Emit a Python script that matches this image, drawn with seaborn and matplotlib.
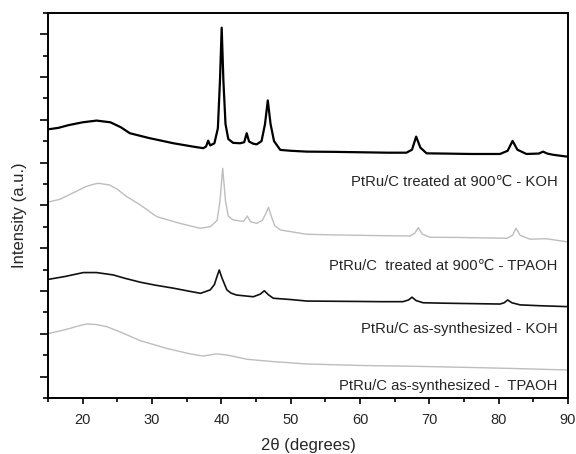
import matplotlib
matplotlib.use("Agg")
import matplotlib.pyplot as plt
from matplotlib.ticker import MultipleLocator, NullFormatter
import pandas as pd
import seaborn as sns

# XRD patterns (offset intensity, arbitrary units) vs 2-theta in degrees
tt_koh_900 = [15.2, 16.5, 18.0, 20.0, 22.0, 24.0, 25.5, 26.8, 29.5, 33.1, 36.0, 37.4, 37.8,
              38.1, 38.4, 39.0, 39.5, 39.8, 40.05, 40.3, 40.6, 41.0, 41.7, 42.7, 43.3,
              43.66, 44.0, 44.6, 45.1, 45.8, 46.3, 46.7, 47.1, 47.6, 48.5, 50.0, 52.3,
              56.0, 60.0, 64.0, 66.7, 67.5, 68.1, 68.7, 69.6, 72.0, 76.0, 80.2, 81.3,
              82.0, 82.7, 84.0, 85.8, 86.4, 87.0, 87.9, 89.8]
int_koh_900 = [12.56, 12.62, 12.75, 12.88, 12.96, 12.88, 12.65, 12.37, 12.15, 11.90, 11.74, 11.67, 11.75,
               12.02, 11.80, 11.90, 12.6, 14.8, 17.3, 14.8, 12.8, 12.1, 11.92, 11.90, 11.95,
               12.37, 11.98, 11.88, 11.85, 12.0, 12.8, 13.9, 12.8, 12.0, 11.59, 11.55, 11.51,
               11.50, 11.48, 11.46, 11.46, 11.6, 12.21, 11.7, 11.43, 11.42, 11.40, 11.40, 11.55,
               12.01, 11.6, 11.40, 11.42, 11.51, 11.42, 11.36, 11.28]

tt_tpaoh_900 = [15.2, 16.7, 18.65, 20.5, 21.5, 22.3, 23.9, 25.0, 26.35, 28.3, 30.7, 34.0, 36.9,
                38.4, 39.4, 39.8, 40.2, 40.6, 41.0, 41.7, 43.2, 43.75, 44.2, 45.1, 45.9,
                46.4, 46.8, 47.2, 47.7, 48.5, 52.3, 56.0, 60.0, 64.0, 67.2, 67.9, 68.4,
                69.0, 70.1, 74.0, 78.0, 81.2, 82.0, 82.5, 83.1, 84.5, 86.9, 89.8]
int_tpaoh_900 = [9.17, 9.28, 9.59, 9.88, 9.98, 10.03, 9.95, 9.75, 9.41, 9.02, 8.47, 8.16, 7.93,
                 8.0, 8.3, 9.2, 10.73, 9.2, 8.5, 8.32, 8.25, 8.50, 8.24, 8.16, 8.3,
                 8.6, 8.91, 8.5, 8.05, 7.85, 7.65, 7.62, 7.60, 7.58, 7.57, 7.7, 7.96,
                 7.65, 7.51, 7.50, 7.48, 7.46, 7.6, 7.93, 7.6, 7.42, 7.44, 7.30]

tt_koh_as = [15.2, 17.5, 20.1, 22.0, 24.4, 26.0, 28.3, 30.5, 33.1, 35.5, 37.0, 38.4,
             39.0, 39.4, 39.7, 40.1, 40.8, 41.4, 42.2, 44.6, 45.6, 46.2, 46.8, 47.5,
             50.0, 52.3, 56.0, 60.0, 63.0, 66.2, 67.0, 67.5, 68.1, 69.1, 72.0, 76.0,
             80.2, 80.8, 81.3, 81.9, 83.1, 86.0, 89.8]
int_koh_as = [5.55, 5.68, 5.86, 5.86, 5.75, 5.60, 5.41, 5.27, 5.13, 4.98, 4.89, 5.05,
              5.3, 5.7, 5.98, 5.6, 5.05, 4.9, 4.81, 4.73, 4.85, 5.01, 4.82, 4.66,
              4.60, 4.53, 4.52, 4.51, 4.50, 4.50, 4.58, 4.71, 4.55, 4.45, 4.43, 4.41,
              4.39, 4.45, 4.58, 4.45, 4.35, 4.31, 4.27]

tt_tpaoh_as = [15.2, 17.7, 19.3, 20.6, 22.0, 23.5, 25.9, 28.3, 32.1, 35.5, 37.4, 39.3, 40.8,
               43.7, 47.5, 52.3, 60.0, 68.0, 75.4, 82.0, 89.8]
int_tpaoh_as = [3.02, 3.21, 3.36, 3.46, 3.43, 3.33, 3.02, 2.68, 2.32, 2.06, 1.96, 2.06, 2.01,
                1.81, 1.70, 1.59, 1.52, 1.48, 1.43, 1.38, 1.31]

labels = ["PtRu/C treated at 900\u2103 - KOH",
          "PtRu/C  treated at 900\u2103 - TPAOH",
          "PtRu/C as-synthesized - KOH",
          "PtRu/C as-synthesized -  TPAOH"]
label_y = [9.91, 6.01, 3.02, 0.37]

series = [(tt_koh_900, int_koh_900, "#000000", 1.6),
          (tt_tpaoh_900, int_tpaoh_900, "#bdbdbd", 1.0),
          (tt_koh_as, int_koh_as, "#111111", 1.2),
          (tt_tpaoh_as, int_tpaoh_as, "#bdbdbd", 1.0)]

sns.set_style("ticks")
plt.rcParams["font.family"] = ["Liberation Sans", "DejaVu Sans"]

fig = plt.figure(figsize=(5.76, 4.54), dpi=100)
ax = fig.add_axes([48 / 576, 56 / 454, 520 / 576, 385.3 / 454])

for tt, inten, color, lw in series:
    df = pd.DataFrame({"two_theta": tt, "intensity": inten})
    sns.lineplot(data=df, x="two_theta", y="intensity", color=color,
                 linewidth=lw, ax=ax, sort=False)

for text, y in zip(labels, label_y):
    ax.text(88.5, y, text, ha="right", va="baseline", fontsize=10.7,
            family=["Liberation Sans", "DejaVu Sans"])

ax.set_xlim(15, 90)
ax.set_ylim(0, 18)
ax.xaxis.set_major_locator(MultipleLocator(10))
ax.xaxis.set_minor_locator(MultipleLocator(5))
ax.yaxis.set_major_locator(MultipleLocator(2, offset=1))
ax.yaxis.set_minor_locator(MultipleLocator(2))
ax.yaxis.set_major_formatter(NullFormatter())
ax.yaxis.set_minor_formatter(NullFormatter())

ax.tick_params(axis="both", which="both", direction="out", color="black",
               width=1.2, top=False, right=False)
ax.tick_params(axis="x", which="major", length=4, labelsize=10.5, pad=7)
ax.tick_params(axis="x", which="minor", length=3)
ax.tick_params(axis="y", which="major", length=5.5)
ax.tick_params(axis="y", which="minor", length=3.5)

for side in ["left", "right", "top", "bottom"]:
    ax.spines[side].set_visible(True)
    ax.spines[side].set_linewidth(1.4)
    ax.spines[side].set_color("black")

ax.set_xlabel("2\u03b8 (degrees)", fontsize=12, labelpad=8)
ax.set_ylabel("Intensity (a.u.)", fontsize=12)
ax.yaxis.set_label_coords(-0.040, 0.475)

fig.savefig("out.png", dpi=100)
